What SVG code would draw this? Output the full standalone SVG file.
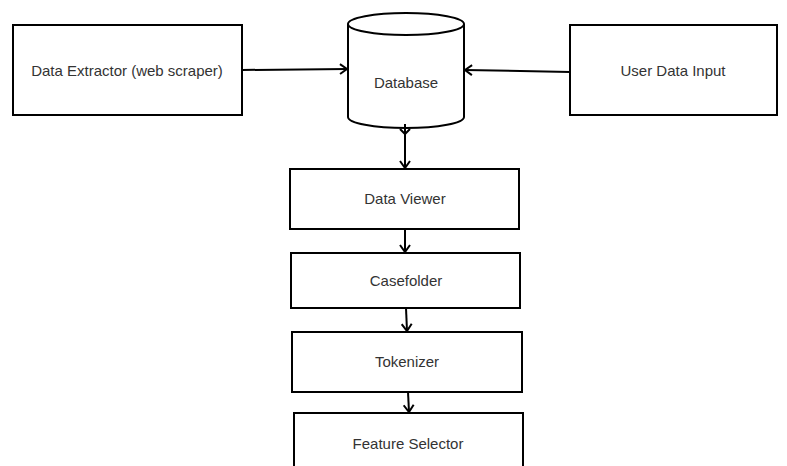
<svg xmlns="http://www.w3.org/2000/svg" width="787" height="466" viewBox="0 0 787 466">
<defs>
<marker id="arr" markerWidth="12" markerHeight="12" refX="10" refY="6" orient="auto" markerUnits="userSpaceOnUse">
<path d="M3,1 L10,6 L3,11" fill="none" stroke="#000" stroke-width="2"/>
</marker>
<style>
.box{fill:#fff;stroke:#000;stroke-width:2}
.lbl{font-family:"Liberation Sans",Arial,sans-serif;font-size:15px;fill:#333;text-anchor:middle;dominant-baseline:central}
.con{fill:none;stroke:#000;stroke-width:2;marker-end:url(#arr)}
.head{fill:none;stroke:#000;stroke-width:2}
</style>
</defs>
<rect width="787" height="466" fill="#fff"/>
<g id="extractor"><rect class="box" x="13" y="25" width="229" height="90"/><text class="lbl" x="127" y="70">Data Extractor (web scraper)</text></g>
<g id="database">
<path class="box" d="M348,24 L348,117 A58,11 0 0 0 464,117 L464,24"/>
<ellipse class="box" cx="406" cy="24" rx="58" ry="11"/>
<text class="lbl" x="406" y="82">Database</text>
</g>
<g id="userinput"><rect class="box" x="570" y="25" width="207" height="90"/><text class="lbl" x="673" y="70">User Data Input</text></g>
<g id="viewer"><rect class="box" x="290" y="169" width="229" height="60"/><text class="lbl" x="405" y="198">Data Viewer</text></g>
<g id="casefolder"><rect class="box" x="291" y="253" width="229" height="55"/><text class="lbl" x="406" y="280">Casefolder</text></g>
<g id="tokenizer"><rect class="box" x="292" y="332" width="230" height="60"/><text class="lbl" x="407" y="361">Tokenizer</text></g>
<g id="selector"><rect class="box" x="294" y="413" width="229" height="70"/><text class="lbl" x="408" y="443">Feature Selector</text></g>
<g id="connectors">
<line class="con" x1="242" y1="70" x2="347" y2="69"/>
<line class="con" x1="570" y1="72" x2="465" y2="70"/>
<line class="con" x1="405" y1="124" x2="405" y2="168"/>
<path class="head" d="M400,129 L405,134 L410,129"/>
<line class="con" x1="405" y1="229" x2="405" y2="252"/>
<line class="con" x1="406" y1="308" x2="407" y2="331"/>
<line class="con" x1="408" y1="392" x2="409" y2="412"/>
</g>
</svg>
